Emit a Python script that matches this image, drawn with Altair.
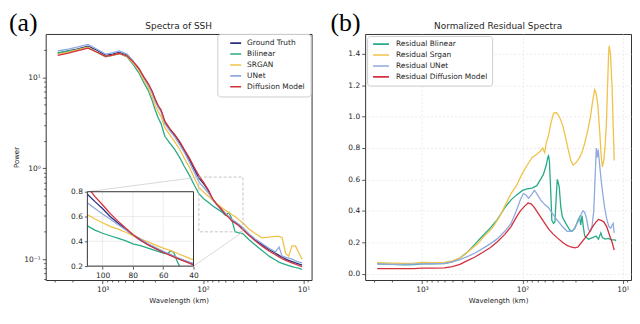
import math
import altair as alt
import pandas as pd

# ---------------- data: panel (a) spectra of SSH ----------------
models = ["Ground Truth", "Bilinear", "SRGAN", "UNet", "Diffusion Model"]
model_colors = ["#2b2f80", "#27ab87", "#f1c24a", "#8eaade", "#d3303c"]

wl_main = [2800, 2200, 1800, 1400, 1150, 935, 800, 684, 571, 500,
           437, 390, 350, 320, 300, 280, 262, 240, 215, 191,
           170, 153, 137, 122, 110, 98, 88, 80, 73, 65,
           60, 55, 52, 48, 44, 40, 35, 30, 26, 22,
           19, 17.5, 16.3, 15, 14, 13, 12, 11, 10.3]
p_gt = [18.5, 19.5, 20.5, 22, 20, 17.5, 18, 18.8, 17.5, 15,
        12.5, 10, 8.3, 6.8, 5.6, 4.8, 4.3, 3.2, 2.7, 2.3,
        1.9, 1.55, 1.25, 0.97, 0.78, 0.67, 0.56, 0.45, 0.4, 0.345,
        0.315, 0.29, 0.272, 0.255, 0.238, 0.218, 0.188, 0.162, 0.145, 0.128,
        0.116, 0.11, 0.105, 0.1, 0.097, 0.094, 0.091, 0.088, 0.086]
p_bil = [18.5, 19.5, 20, 21.5, 19, 16.8, 17.5, 18.3, 16.8, 14,
         11.3, 8.8, 7.1, 5.5, 4.4, 3.6, 3.1, 2.25, 1.9, 1.6,
         1.3, 1.04, 0.84, 0.65, 0.525, 0.46, 0.42, 0.385, 0.36, 0.33,
         0.305, 0.325, 0.28, 0.2, 0.195, 0.19, 0.165, 0.142, 0.125, 0.108,
         0.098, 0.093, 0.09, 0.087, 0.085, 0.083, 0.081, 0.079, 0.077]
p_srg = [18, 19, 20, 21.5, 19, 17, 17.5, 18.3, 17, 14.5,
         12, 9.3, 7.6, 6, 4.9, 4.2, 3.7, 2.8, 2.35, 1.95,
         1.6, 1.28, 1.03, 0.78, 0.615, 0.545, 0.49, 0.445, 0.41, 0.37,
         0.345, 0.325, 0.31, 0.295, 0.272, 0.25, 0.215, 0.19, 0.172, 0.175,
         0.178, 0.178, 0.172, 0.115, 0.108, 0.14, 0.14, 0.115, 0.099]
p_unet = [19.5, 20.5, 21.5, 23, 20.5, 18, 18.6, 19.5, 18, 15.3,
          12.6, 10, 8.2, 6.7, 5.5, 4.7, 4.2, 3.1, 2.6, 2.2,
          1.8, 1.48, 1.17, 0.9, 0.71, 0.61, 0.53, 0.455, 0.4, 0.35,
          0.32, 0.29, 0.275, 0.26, 0.242, 0.222, 0.19, 0.166, 0.15, 0.132,
          0.12, 0.136, 0.108, 0.105, 0.103, 0.1, 0.096, 0.093, 0.091]
p_diff = [17.5, 18.5, 19.5, 21, 19, 17, 17.6, 18.3, 17.2, 15,
          12.6, 10.2, 8.5, 7, 5.8, 4.9, 4.4, 3.3, 2.75, 2.35,
          1.95, 1.6, 1.3, 1.02, 0.83, 0.69, 0.57, 0.46, 0.4, 0.35,
          0.31, 0.285, 0.265, 0.25, 0.233, 0.21, 0.183, 0.158, 0.14, 0.123,
          0.112, 0.106, 0.101, 0.097, 0.094, 0.091, 0.088, 0.085, 0.083]

# inset (zoom 110 -> 40 km)
inset_wl = [110, 105, 100, 95, 90, 85, 80, 75, 70, 65, 60, 55, 50, 45, 40]
inset_gt = [0.78, 0.72, 0.665, 0.6, 0.55, 0.5, 0.45, 0.41, 0.375, 0.345, 0.315, 0.29, 0.262, 0.24, 0.218]
inset_srg = [0.615, 0.58, 0.55, 0.52, 0.5, 0.475, 0.445, 0.42, 0.395, 0.37, 0.345, 0.325, 0.3, 0.275, 0.25]
inset_unet = [0.71, 0.665, 0.62, 0.58, 0.535, 0.495, 0.455, 0.42, 0.38, 0.35, 0.32, 0.29, 0.265, 0.24, 0.22]
inset_diff_wl = [107.5, 105, 100, 95, 90, 85, 80, 75, 70, 65, 60, 55, 50, 45, 40]
inset_diff = [0.8, 0.76, 0.695, 0.625, 0.565, 0.51, 0.455, 0.41, 0.37, 0.34, 0.31, 0.285, 0.258, 0.235, 0.21]
inset_bil_wl = [110, 105, 100, 95, 90, 85, 80, 75, 70, 65, 60, 57, 55, 53, 51, 49.2]
inset_bil = [0.525, 0.49, 0.465, 0.445, 0.425, 0.405, 0.38, 0.365, 0.345, 0.325, 0.305, 0.3, 0.325, 0.31, 0.245, 0.2]
inset_x_ticks = [100, 80, 60, 40]
inset_y_ticks = [0.2, 0.4, 0.6, 0.8]

# ---------------- data: panel (b) normalized residual spectra ----------------
res_models = ["Residual Blinear", "Residual Srgan", "Residual UNet", "Residual Diffusion Model"]
res_colors = ["#27ab87", "#f1c24a", "#8eaade", "#d3303c"]

res_bil_wl = [2800, 2000, 1500, 1200, 1000, 800, 600, 500, 420, 350, 300, 250, 210, 180, 150,
              130, 115, 100, 90, 80, 72, 66, 62, 58, 56, 55, 54, 52.5, 51, 49, 47.5, 46, 45,
              44, 43, 41.5, 40, 37, 34, 32, 30, 28, 27, 26.3, 25.5, 24.8, 24, 22, 20, 18.5,
              17.5, 16.6, 16, 15, 14, 13, 12, 11.7]
res_bil = [0.063, 0.06, 0.057, 0.058, 0.062, 0.063, 0.065, 0.075, 0.1, 0.14, 0.185, 0.24, 0.29, 0.34, 0.42,
           0.47, 0.5, 0.53, 0.54, 0.545, 0.56, 0.6, 0.63, 0.69, 0.74, 0.75, 0.72, 0.55, 0.34, 0.32, 0.33, 0.5, 0.6,
           0.58, 0.55, 0.42, 0.36, 0.32, 0.28, 0.27, 0.29, 0.34, 0.36, 0.31, 0.37, 0.3, 0.24, 0.22, 0.23, 0.24,
           0.22, 0.26, 0.23, 0.22, 0.225, 0.215, 0.215, 0.21]
res_srg_wl = [2800, 2000, 1500, 1200, 1000, 800, 600, 500, 420, 370, 320, 280, 240, 200, 170,
              150, 130, 115, 100, 90, 80, 72, 66, 63, 60, 58, 55, 52, 49, 46, 43, 40, 37, 35, 33,
              31.3, 29, 27, 25.6, 24, 22.4, 21, 20, 19.1, 18.5, 17.8, 17, 16.4, 16, 15.5, 15,
              14.6, 14.2, 13.9, 13.7, 13.3, 12.8, 12.5, 12.2]
res_srg = [0.07, 0.068, 0.066, 0.068, 0.072, 0.07, 0.072, 0.082, 0.1, 0.125, 0.16, 0.19, 0.24, 0.29, 0.36,
           0.43, 0.51, 0.56, 0.64, 0.69, 0.74, 0.76, 0.78, 0.8, 0.77, 0.83, 0.88, 0.96, 1.02, 1.025, 1.0, 0.95,
           0.86, 0.79, 0.72, 0.69, 0.71, 0.74, 0.77, 0.83, 0.91, 1.0, 1.1, 1.17, 1.15, 1.08, 0.9, 0.74, 0.68,
           0.72, 0.82, 0.95, 1.2, 1.38, 1.45, 1.4, 1.18, 0.95, 0.72]
res_unet_wl = [2800, 2000, 1500, 1000, 800, 600, 500, 420, 350, 300, 250, 210, 180, 150, 130,
               115, 105, 98, 92, 87, 82, 76, 72, 66, 60, 55, 50, 45, 40, 36, 33, 31, 28, 26, 25,
               24, 23, 22, 21, 20.3, 19.5, 18.8, 18.4, 18, 17.6, 17.2, 16.5, 15.8, 15.2, 14.5,
               13.8, 13.2, 12.8, 12.5, 12.2]
res_unet = [0.062, 0.06, 0.06, 0.063, 0.064, 0.066, 0.075, 0.09, 0.11, 0.13, 0.16, 0.19, 0.22, 0.27, 0.32,
            0.4, 0.47, 0.51, 0.5, 0.48, 0.5, 0.53, 0.51, 0.47, 0.44, 0.42, 0.38, 0.34, 0.3, 0.27, 0.27, 0.28,
            0.33, 0.38, 0.4, 0.39, 0.35, 0.28, 0.27, 0.3, 0.4, 0.65, 0.8, 0.74, 0.79, 0.72, 0.6, 0.5, 0.42,
            0.35, 0.3, 0.29, 0.31, 0.32, 0.26]
res_diff_wl = [2800, 2000, 1500, 1200, 1000, 800, 600, 500, 420, 350, 300, 250, 210, 180, 150,
               130, 115, 105, 95, 88, 82, 76, 70, 62, 55, 50, 45, 40, 36, 33, 30, 28, 25, 22, 20,
               18.5, 17.5, 16.5, 15.5, 14.5, 13.5, 12.8, 12.2]
res_diff = [0.033, 0.032, 0.032, 0.033, 0.036, 0.036, 0.037, 0.045, 0.06, 0.085, 0.105, 0.135, 0.165, 0.2, 0.25,
            0.3, 0.36, 0.4, 0.43, 0.45, 0.445, 0.42, 0.385, 0.335, 0.285, 0.255, 0.228, 0.2, 0.18, 0.17, 0.165,
            0.17, 0.21, 0.255, 0.3, 0.33, 0.345, 0.34, 0.33, 0.3, 0.24, 0.2, 0.15]

log_x_ticks = [9, 10, 20, 30, 40, 50, 60, 70, 80, 90, 100, 200, 300, 400, 500, 600, 700, 800, 900,
               1000, 2000, 3000]
log_y_ticks = [0.06, 0.07, 0.08, 0.09, 0.1, 0.2, 0.3, 0.4, 0.5, 0.6, 0.7, 0.8, 0.9, 1,
               2, 3, 4, 5, 6, 7, 8, 9, 10, 20]
res_y_ticks = [0.0, 0.2, 0.4, 0.6, 0.8, 1.0, 1.2, 1.4]

panel_titles = ["Spectra of SSH", "Normalized Residual Spectra"]
panel_letters = ["(a)", "(b)"]

# ---------------- layout / style ----------------
W, H = 268, 248
X_DOMAIN = [8.3, 3690]
PW_DOMAIN = [0.059, 30]
RES_DOMAIN = [-0.04, 1.525]
INSET_X = [40, 110]
INSET_Y = [0.2, 0.8]
INSET_PX_X = [42, 149]   # left, right (pixels inside left plot)
INSET_PX_Y = [159, 234]  # top, bottom
FONT = "DejaVu Sans"
SERIF = "Liberation Serif"
TXT = "#262626"


def long_df(names, xs_list, ys_list, xname, yname):
    rows = []
    for name, xs_, ys_ in zip(names, xs_list, ys_list):
        assert len(xs_) == len(ys_), name
        for a, b in zip(xs_, ys_):
            rows.append({xname: a, yname: b, "model": name})
    return pd.DataFrame(rows)


df_main = long_df(models, [wl_main] * 5, [p_gt, p_bil, p_srg, p_unet, p_diff], "wl", "p")
df_inset = long_df(models,
                   [inset_wl, inset_bil_wl, inset_wl, inset_wl, inset_diff_wl],
                   [inset_gt, inset_bil, inset_srg, inset_unet, inset_diff], "wl", "p")
df_res = long_df(res_models, [res_bil_wl, res_srg_wl, res_unet_wl, res_diff_wl],
                 [res_bil, res_srg, res_unet, res_diff], "wl", "r")


def inv_x(px):
    a, b = math.log10(X_DOMAIN[1]), math.log10(X_DOMAIN[0])
    return 10 ** (a + px / W * (b - a))


def inv_y(py):
    a, b = math.log10(PW_DOMAIN[1]), math.log10(PW_DOMAIN[0])
    return 10 ** (a + py / H * (b - a))


def heading(i):
    """panel letter (serif) and centred panel title, as text marks above the plot."""
    letter = alt.Chart(pd.DataFrame({"t": [panel_letters[i]]})).mark_text(
        font=SERIF, fontSize=26, align="left", baseline="alphabetic", color="black").encode(
        text="t:N", x=alt.value(-37 if i == 0 else -35), y=alt.value(-3))
    title = alt.Chart(pd.DataFrame({"t": [panel_titles[i]]})).mark_text(
        font=FONT, fontSize=9, align="center", baseline="alphabetic", color=TXT).encode(
        text="t:N", x=alt.value(W / 2), y=alt.value(-5))
    return letter, title


MAJ = "datum.value == 10 || datum.value == 100 || datum.value == 1000"
cond_tick = {"condition": {"test": MAJ, "value": 3.5}, "value": 2}

x_log_axis = alt.Axis(values=log_x_ticks, title="Wavelength (km)",
                      labelExpr="datum.value == 1000 ? '10³' : datum.value == 100 ? '10²' : datum.value == 10 ? '10¹' : ''",
                      tickSize=cond_tick, grid=False, labelOverlap=False, labelFlush=False)
y_log_axis = alt.Axis(values=log_y_ticks, title="Power",
                      labelExpr="datum.value == 10 ? '10¹' : datum.value == 1 ? '10⁰' : datum.value == 0.1 ? '10⁻¹' : ''",
                      tickSize={"condition": {"test": "datum.value == 10 || datum.value == 1 || datum.value == 0.1",
                                              "value": 3.5}, "value": 2},
                      grid=False, labelOverlap=False, labelFlush=False)

xs = alt.Scale(type="log", domain=X_DOMAIN, reverse=True, nice=False)
ys = alt.Scale(type="log", domain=PW_DOMAIN, nice=False)
cs = alt.Scale(domain=models, range=model_colors)

leg_a = alt.Legend(title=None, orient="none", legendX=173, legendY=0, symbolType="stroke",
                   symbolSize=121, symbolStrokeWidth=1.6, labelFontSize=7.5, labelFont=FONT,
                   labelColor=TXT, strokeColor="#cccccc", fillColor="#ffffff", padding=5,
                   cornerRadius=3, rowPadding=2, labelOffset=5, symbolOffset=7, clipHeight=8.5)

X = lambda f: alt.X(f, scale=xs, axis=x_log_axis)
Y = lambda f: alt.Y(f, scale=ys, axis=y_log_axis)

main_lines = alt.Chart(df_main).mark_line(strokeWidth=1.3).encode(
    x=X("wl:Q"), y=Y("p:Q"),
    color=alt.Color("model:N", scale=cs, legend=leg_a),
)

zoom_df = pd.DataFrame({"x": [INSET_X[1]], "x2": [INSET_X[0]], "y": [INSET_Y[1]], "y2": [INSET_Y[0]]})
zoom_rect = alt.Chart(zoom_df).mark_rect(fillOpacity=0, stroke="#b5b5b5", strokeWidth=0.8,
                                         strokeDash=[3, 2]).encode(
    x=X("x:Q"), x2="x2:Q", y=Y("y:Q"), y2="y2:Q")

conn_df = pd.DataFrame({
    "x": [inv_x(INSET_PX_X[0]), inv_x(INSET_PX_X[1])],
    "y": [inv_y(INSET_PX_Y[0]), inv_y(INSET_PX_Y[1])],
    "x2": [INSET_X[1], INSET_X[0]],
    "y2": [INSET_Y[1], INSET_Y[0]],
})
connectors = alt.Chart(conn_df).mark_rule(stroke="#cfcfcf", strokeWidth=0.8).encode(
    x=X("x:Q"), x2="x2:Q", y=Y("y:Q"), y2="y2:Q")

bg_df = pd.DataFrame({"x": [inv_x(INSET_PX_X[0])], "x2": [inv_x(INSET_PX_X[1])],
                      "y": [inv_y(INSET_PX_Y[0])], "y2": [inv_y(INSET_PX_Y[1])]})
inset_bg = alt.Chart(bg_df).mark_rect(fill="white", strokeWidth=0).encode(
    x=X("x:Q"), x2="x2:Q", y=Y("y:Q"), y2="y2:Q")

letter_a, title_a = heading(0)
main_layer = alt.layer(main_lines, zoom_rect, connectors, inset_bg, letter_a, title_a)

# inset with its own scales
ixs = alt.Scale(domain=[INSET_X[1], INSET_X[0]], range=INSET_PX_X, nice=False, zero=False)
iys = alt.Scale(domain=INSET_Y, range=[INSET_PX_Y[1], INSET_PX_Y[0]], nice=False, zero=False)
ix_axis = alt.Axis(orient="bottom", offset=-(H - INSET_PX_Y[1]), values=inset_x_ticks, format="d",
                   grid=False, title=None, tickSize=3, labelFlush=False, labelOverlap=False)
iy_axis = alt.Axis(orient="left", offset=-INSET_PX_X[0], values=inset_y_ticks, format=".1f",
                   grid=False, title=None, tickSize=3, labelFlush=False, labelOverlap=False)
IX = lambda f: alt.X(f, scale=ixs, axis=ix_axis)
IY = lambda f: alt.Y(f, scale=iys, axis=iy_axis)

gv = pd.DataFrame({"g": inset_x_ticks, "a": INSET_Y[0], "b": INSET_Y[1]})
gh = pd.DataFrame({"g": inset_y_ticks, "a": INSET_X[1], "b": INSET_X[0]})
grid_v = alt.Chart(gv).mark_rule(stroke="#e3e3e3", strokeWidth=0.7).encode(
    x=IX("g:Q"), y=IY("a:Q"), y2="b:Q")
grid_h = alt.Chart(gh).mark_rule(stroke="#e3e3e3", strokeWidth=0.7).encode(
    y=IY("g:Q"), x=IX("a:Q"), x2="b:Q")
inset_lines = alt.Chart(df_inset).mark_line(strokeWidth=1.3).encode(
    x=IX("wl:Q"), y=IY("p:Q"), color=alt.Color("model:N", scale=cs, legend=leg_a))
frame_df = pd.DataFrame({"x": [INSET_X[1]], "x2": [INSET_X[0]], "y": [INSET_Y[1]], "y2": [INSET_Y[0]]})
inset_frame = alt.Chart(frame_df).mark_rect(fillOpacity=0, stroke="#333333", strokeWidth=1).encode(
    x=IX("x:Q"), x2="x2:Q", y=IY("y:Q"), y2="y2:Q")

inset_layer = alt.layer(grid_v, grid_h, inset_lines, inset_frame)

left = alt.layer(main_layer, inset_layer).resolve_scale(x="independent", y="independent").properties(
    width=W, height=H)

# ---------------- panel (b) ----------------
leg_b = alt.Legend(title=None, orient="none", legendX=2, legendY=2, symbolType="stroke",
                   symbolSize=256, symbolStrokeWidth=1.6, labelFontSize=7.5, labelFont=FONT,
                   labelColor=TXT, strokeColor="#cccccc", fillColor="#ffffff", padding=4,
                   cornerRadius=3, rowPadding=2, labelOffset=6, symbolOffset=1, clipHeight=8.5)

x_log_axis_b = alt.Axis(values=log_x_ticks, title="Wavelength (km)",
                        labelExpr="datum.value == 1000 ? '10³' : datum.value == 100 ? '10²' : datum.value == 10 ? '10¹' : ''",
                        tickSize=cond_tick, grid=True, gridColor="#e2e2e2", gridDash=[2, 2], gridWidth=0.7,
                        gridOpacity={"condition": {"test": MAJ, "value": 1}, "value": 0},
                        labelOverlap=False, labelFlush=False)
y_res_axis = alt.Axis(values=res_y_ticks, format=".1f", title=None, grid=True, gridColor="#e2e2e2",
                      gridDash=[2, 2], gridWidth=0.7, labelFlush=False, labelOverlap=False)

res_lines = alt.Chart(df_res).mark_line(strokeWidth=1.3).encode(
    x=alt.X("wl:Q", scale=xs, axis=x_log_axis_b),
    y=alt.Y("r:Q", scale=alt.Scale(domain=RES_DOMAIN, nice=False, zero=False), axis=y_res_axis),
    color=alt.Color("model:N", scale=alt.Scale(domain=res_models, range=res_colors), legend=leg_b))

letter_b, title_b = heading(1)
right = alt.layer(res_lines, letter_b, title_b).properties(width=W, height=H)

chart = alt.hconcat(left, right, spacing=17).resolve_scale(color="independent").resolve_legend(
    color="independent").properties(padding=0).configure_view(
    stroke="#333333", strokeWidth=1
).configure_axis(
    domain=False, labelFont=FONT, labelFontSize=7.5, labelColor=TXT, titleFont=FONT,
    titleFontSize=7, titleFontWeight="normal", titleColor=TXT, tickColor="#333333",
    tickWidth=0.8, tickSize=3.5, labelPadding=2, titlePadding=4
)

chart.save("out.html", embed_options={"renderer": "svg", "actions": False})
